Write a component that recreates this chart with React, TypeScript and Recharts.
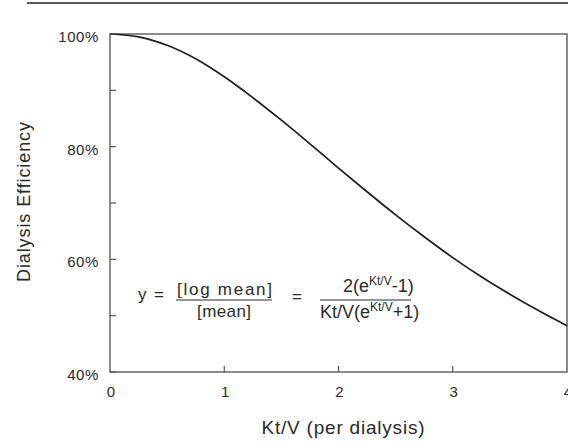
import React from "react"
import { LineChart, Line, XAxis, YAxis, ReferenceArea } from "recharts"

// Kt/V values along the x axis and the efficiency
const ktv = [0, 0.25, 0.5, 0.75, 1, 1.25, 1.5, 1.75, 2, 2.25, 2.5, 2.75, 3, 3.25, 3.5, 3.75, 4]
const efficiency = [1.0, 0.995, 0.98, 0.956, 0.924, 0.887, 0.847, 0.805, 0.762, 0.72, 0.679, 0.64, 0.603, 0.569, 0.538, 0.509, 0.482]

const xTicks = [0, 1, 2, 3, 4]
const yTicks = [0.4, 0.5, 0.6, 0.7, 0.8, 0.9, 1.0]
const yLabelled = [0.4, 0.6, 0.8, 1.0]

const data = ktv.map((k, i) => ({ ktv: k, eff: efficiency[i] }))

const FONT = "'Liberation Sans', Arial, Helvetica, sans-serif"
const INK = "#2a2a2a"

function YTick(props: any) {
  const { x, y, payload } = props
  const v = payload.value as number
  const major = yLabelled.some(m => Math.abs(m - v) < 1e-6)
  return (
    <g>
      <line x1={x} x2={x + 6} y1={y} y2={y} stroke="#555" strokeWidth={1.2} />
      {major && (
        <text x={x - 11} y={y + 8} textAnchor="end" fontSize={15} letterSpacing={0.6}
          fontFamily={FONT} fill={INK}>
          {Math.round(v * 100)}%
        </text>
      )}
    </g>
  )
}

function XTick(props: any) {
  const { x, y, payload } = props
  const v = payload.value as number
  return (
    <g>
      {v > 0 && v < 4 && <line x1={x} x2={x} y1={y} y2={y - 6} stroke="#555" strokeWidth={1.2} />}
      <text x={x + 1} y={y + 25} textAnchor="middle" fontSize={15}
        fontFamily={FONT} fill={INK}>
        {v}
      </text>
    </g>
  )
}

export default function App() {
  return (
    <div style={{ position: "absolute", left: 0, top: 0, width: 568, height: 444, background: "#fff", fontFamily: FONT }}>
      <LineChart width={568} height={444} data={data} margin={{ top: 34, right: 1, bottom: 0, left: 0 }}>
        <XAxis
          dataKey="ktv" type="number" domain={[0, 4]} ticks={xTicks}
          height={72} tickSize={0} tickMargin={0} axisLine={false}
          tick={<XTick />} interval={0}
        />
        <YAxis
          type="number" domain={[0.4, 1.0]} ticks={yTicks}
          width={110} tickSize={0} tickMargin={0} axisLine={false}
          tick={<YTick />} interval={0}
        />
        {/* plot frame */}
        <ReferenceArea x1={0} x2={4} y1={0.4} y2={1.0} fill="none" stroke="#666" strokeWidth={1.5} ifOverflow="visible" />
        <Line
          dataKey="eff" type="monotone"
          stroke="#1e1e1e" strokeWidth={1.7} dot={false}
          isAnimationActive={false}
        />
      </LineChart>

      <svg width={568} height={444} style={{ position: "absolute", left: 0, top: 0, pointerEvents: "none" }}
        fontFamily={FONT} fill={INK}>
        <line x1={27} x2={568} y1={3} y2={3} stroke="#222" strokeWidth={1.5} />

        <text x={30} y={202} transform="rotate(-90 30 202)" textAnchor="middle"
          fontSize={18} textLength={160} lengthAdjust="spacing">Dialysis Efficiency</text>
        <text x={343} y={434} textAnchor="middle" fontSize={19} textLength={163} lengthAdjust="spacing">
          Kt/V (per dialysis)
        </text>

        {/* formula */}
        <text x={138} y={300} fontSize={17}>y</text>
        <text x={154} y={300} fontSize={17}>=</text>
        <text x={177} y={295} fontSize={17} textLength={95} lengthAdjust="spacing">[log mean]</text>
        <line x1={176} x2={272} y1={300} y2={300} stroke={INK} strokeWidth={1.2} />
        <text x={224} y={317} fontSize={17} textAnchor="middle" textLength={54} lengthAdjust="spacing">[mean]</text>
        <text x={292} y={302} fontSize={17}>=</text>
        <text x={343} y={292} fontSize={18}>
          2(e<tspan fontSize={12} dy={-7}>Kt/V</tspan><tspan dy={7}>-1)</tspan>
        </text>
        <line x1={320} x2={411} y1={300} y2={300} stroke={INK} strokeWidth={1.2} />
        <text x={320} y={318} fontSize={18}>
          Kt/V(e<tspan fontSize={12} dy={-7}>Kt/V</tspan><tspan dy={7}>+1)</tspan>
        </text>
      </svg>
    </div>
  )
}
